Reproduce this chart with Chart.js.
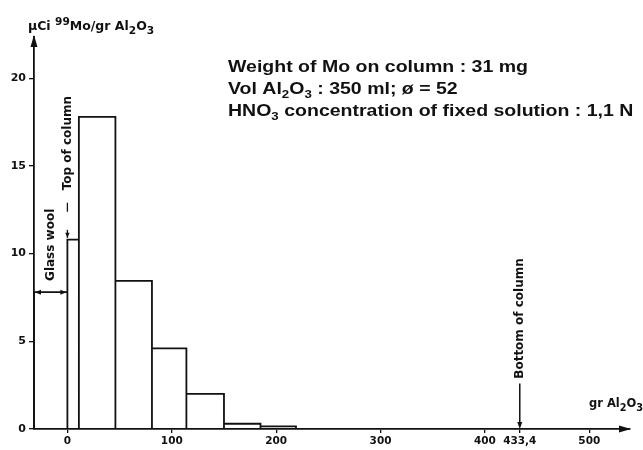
<!DOCTYPE html>
<html>
<head>
<meta charset="utf-8">
<script src="https://cdn.jsdelivr.net/npm/chart.js@4"></script>
<style>
  html, body { margin: 0; padding: 0; background: #fff; }
  #wrap { width: 643px; height: 450px; }
</style>
</head>
<body>
<div id="wrap"><canvas id="chart"></canvas></div>
<script>
// bin edges along the column (gr Al2O3) and activity in each bin (µCi 99Mo / gr Al2O3)
const binEdges = [-32, 0, 11, 46, 81, 114, 150, 185, 219];
const activity = [7.8, 10.8, 17.8, 8.45, 4.6, 2.0, 0.3, 0.15];
const xTicks = [0, 100, 200, 300, 400, 433.4, 500];
const yTicks = [0, 5, 10, 15, 20];

// annotation anchors, in data units
const glassWool = { x: -16, y: 10.5 };
const topOfColumn = { x: 0, textY: 16.3, arrowFrom: 12.9, arrowTo: 10.9 };
const bottomOfColumn = { x: 433.4, textY: 6.3, arrowFrom: 2.6 };

const infoLines = [
  [['Weight of Mo on column : 31 mg', 0]],
  [['Vol Al', 0], ['2', -1], ['O', 0], ['3', -1], [' : 350 ml; ø = 52', 0]],
  [['HNO', 0], ['3', -1], [' concentration of fixed solution : 1,1 N', 0]]
];

// outline of the histogram: each bin goes up, across and back down
const outline = [];
activity.forEach((h, i) => {
  outline.push({ x: binEdges[i], y: 0 }, { x: binEdges[i], y: h },
               { x: binEdges[i + 1], y: h }, { x: binEdges[i + 1], y: 0 });
});

const INK = '#111';
const TICK_FONT = 'DejaVu Sans';

function drawRich(ctx, parts, x, y, size, family, weight, opts) {
  opts = opts || {};
  const small = opts.small || 0.68, up = opts.up || size * 0.42, down = opts.down || size * 0.28;
  ctx.save();
  ctx.translate(x, y);
  ctx.scale(opts.stretch || 1, 1);
  ctx.textBaseline = 'alphabetic';
  ctx.textAlign = 'left';
  let cx = 0;
  for (const [t, m] of parts) {
    const s = m ? size * small : size;
    ctx.font = `${weight} ${s}px "${family}"`;
    const dy = m === 1 ? -up : (m === -1 ? down : 0);
    ctx.fillText(t, cx, dy);
    cx += ctx.measureText(t).width;
  }
  ctx.restore();
  return cx;
}

function arrowHead(ctx, x, y, dir, len, half) {
  ctx.beginPath();
  ctx.moveTo(x, y);
  if (dir === 'up') { ctx.lineTo(x - half, y + len); ctx.lineTo(x + half, y + len); }
  if (dir === 'down') { ctx.lineTo(x - half, y - len); ctx.lineTo(x + half, y - len); }
  if (dir === 'right') { ctx.lineTo(x - len, y - half); ctx.lineTo(x - len, y + half); }
  if (dir === 'left') { ctx.lineTo(x + len, y - half); ctx.lineTo(x + len, y + half); }
  ctx.closePath();
  ctx.fill();
}

function rotatedText(ctx, text, x, y, size) {
  ctx.save();
  ctx.translate(x, y);
  ctx.rotate(-Math.PI / 2);
  ctx.font = `bold ${size}px "${TICK_FONT}"`;
  ctx.textAlign = 'center';
  ctx.textBaseline = 'middle';
  ctx.fillText(text, 0, 0);
  ctx.restore();
}

const decorations = {
  id: 'decorations',
  afterDraw(chart) {
    const ctx = chart.ctx, a = chart.chartArea;
    const xs = chart.scales.x, ys = chart.scales.y;
    ctx.save();
    ctx.fillStyle = INK;
    ctx.strokeStyle = INK;

    // axis arrows
    arrowHead(ctx, a.left, a.top - 2, 'up', 12, 3.5);
    arrowHead(ctx, a.right + 1, a.bottom, 'right', 12, 3.5);

    // glass wool: double arrow across the first bin
    const gy = ys.getPixelForValue(activity[0]);
    const gl = xs.getPixelForValue(binEdges[0]), gr = xs.getPixelForValue(binEdges[1]);
    arrowHead(ctx, gl + 1, gy, 'left', 6, 2.5);
    arrowHead(ctx, gr - 1, gy, 'right', 6, 2.5);
    rotatedText(ctx, 'Glass wool', xs.getPixelForValue(glassWool.x), ys.getPixelForValue(glassWool.y), 12);

    // top of column
    const tx = xs.getPixelForValue(topOfColumn.x);
    rotatedText(ctx, 'Top of column', tx, ys.getPixelForValue(topOfColumn.textY), 12);
    ctx.lineWidth = 1.3;
    const f = ys.getPixelForValue(topOfColumn.arrowFrom), t = ys.getPixelForValue(topOfColumn.arrowTo);
    ctx.beginPath(); ctx.moveTo(tx, f); ctx.lineTo(tx, f + 9); ctx.stroke();
    ctx.beginPath(); ctx.moveTo(tx, t - 8); ctx.lineTo(tx, t); ctx.stroke();
    arrowHead(ctx, tx, t, 'down', 5, 2.2);

    // bottom of column
    const bx = xs.getPixelForValue(bottomOfColumn.x);
    rotatedText(ctx, 'Bottom of column', bx, ys.getPixelForValue(bottomOfColumn.textY), 12);
    ctx.lineWidth = 1.5;
    ctx.beginPath(); ctx.moveTo(bx, ys.getPixelForValue(bottomOfColumn.arrowFrom)); ctx.lineTo(bx, a.bottom - 3); ctx.stroke();
    arrowHead(ctx, bx, a.bottom, 'down', 7, 2.5);

    // axis titles
    drawRich(ctx, [['µCi ', 0], ['99', 1], ['Mo/gr Al', 0], ['2', -1], ['O', 0], ['3', -1]],
             a.left - 6, 30, 12.5, TICK_FONT, 'bold', { small: 0.85, up: 5, down: 4 });
    drawRich(ctx, [['gr Al', 0], ['2', -1], ['O', 0], ['3', -1]],
             a.right - 41, a.bottom - 22, 11.5, TICK_FONT, 'bold', { small: 0.85, up: 5, down: 4 });

    // info block, stretched to the width of the printed original
    ctx.font = 'bold 16.5px "Liberation Sans"';
    const stretch = 300 / ctx.measureText(infoLines[0][0][0]).width;
    infoLines.forEach((parts, i) => {
      drawRich(ctx, parts, 228, 72 + i * 22, 16.5, 'Liberation Sans', 'bold',
               { stretch: stretch, small: 0.68, up: 6, down: 3.5 });
    });
    ctx.restore();
  }
};

new Chart(document.getElementById('chart'), {
  type: 'line',
  data: {
    datasets: [{
      data: outline,
      borderColor: INK,
      borderWidth: 1.8,
      pointRadius: 0,
      fill: false,
      tension: 0
    }]
  },
  options: {
    responsive: true,
    maintainAspectRatio: false,
    animation: false,
    layout: { padding: { top: 37, right: 13, left: 0, bottom: 0 } },
    plugins: { legend: { display: false }, tooltip: { enabled: false } },
    scales: {
      x: {
        type: 'linear',
        min: -32,
        max: 539,
        afterBuildTicks: s => { s.ticks = xTicks.map(v => ({ value: v })); },
        afterFit: s => { s.height = 21; },
        grid: { drawOnChartArea: false, drawTicks: true, tickLength: 4, color: INK, lineWidth: 1.3 },
        border: { display: true, color: INK, width: 1.8 },
        ticks: {
          autoSkip: false, maxRotation: 0, padding: 2, color: INK,
          font: { family: TICK_FONT, weight: 'bold', size: 10.5 },
          callback: v => String(v).replace('.', ',')
        }
      },
      y: {
        min: 0,
        max: 22.35,
        afterBuildTicks: s => { s.ticks = yTicks.map(v => ({ value: v })); },
        afterFit: s => { s.width = 34; },
        grid: { drawOnChartArea: false, drawTicks: true, tickLength: 5, color: INK, lineWidth: 1.3 },
        border: { display: true, color: INK, width: 1.8 },
        ticks: {
          padding: 3, color: INK,
          font: { family: TICK_FONT, weight: 'bold', size: 11 }
        }
      }
    }
  },
  plugins: [decorations]
});
</script>
</body>
</html>
